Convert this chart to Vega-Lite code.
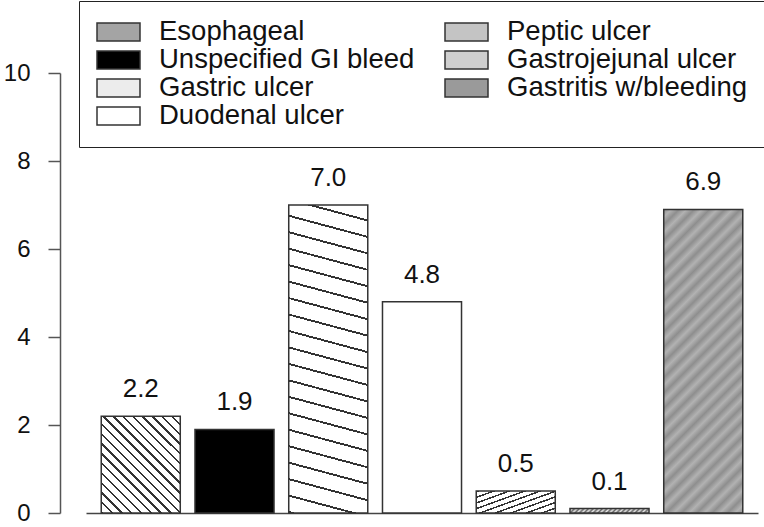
{
  "$schema": "https://vega.github.io/schema/vega-lite/v6.json",
  "autosize": "none",
  "padding": {"left": 86, "top": 73, "right": 6, "bottom": 14},
  "width": 672,
  "height": 440,
  "config": {"view": {"stroke": null}, "font": "Liberation Sans"},
  "data": {"values": [
    {"cause": "Esophageal", "rate": 2.2},
    {"cause": "Unspecified GI bleed", "rate": 1.9},
    {"cause": "Gastric ulcer", "rate": 7.0},
    {"cause": "Duodenal ulcer", "rate": 4.8},
    {"cause": "Peptic ulcer", "rate": 0.5},
    {"cause": "Gastrojejunal ulcer", "rate": 0.1},
    {"cause": "Gastritis w/bleeding", "rate": 6.9}
  ]},
  "encoding": {
    "x": {"field": "cause", "type": "nominal",
      "sort": ["Esophageal","Unspecified GI bleed","Gastric ulcer","Duodenal ulcer","Peptic ulcer","Gastrojejunal ulcer","Gastritis w/bleeding"],
      "scale": {"paddingInner": 0.157, "paddingOuter": 0.1625},
      "axis": {"labels": false, "ticks": false, "title": null, "domainColor": "#444", "domainWidth": 1.5}},
    "y": {"field": "rate", "type": "quantitative",
      "scale": {"domain": [0, 10], "nice": false},
      "axis": {"values": [0,2,4,6,8,10], "offset": 26, "tickSize": 12, "labelPadding": 18, "labelFontSize": 24, "labelFont": "Liberation Sans", "labelColor": "#111", "domainColor": "#555", "tickColor": "#555", "domainWidth": 1.5, "tickWidth": 1.5, "grid": false, "title": null}}
  },
  "layer": [
    {
      "mark": {"type": "bar", "stroke": "#333", "strokeWidth": 1.5},
      "encoding": {
        "fill": {"field": "cause", "type": "nominal",
          "scale": {
            "domain": ["Esophageal","Unspecified GI bleed","Gastric ulcer","Duodenal ulcer","Peptic ulcer","Gastrojejunal ulcer","Gastritis w/bleeding"],
            "range": ["#a4a4a4","#000000","#ececec","#ffffff","#c4c4c4","#cfcfcf","#9a9a9a"]},
          "legend": {"title": null, "orient": "none", "legendX": -7, "legendY": -72, "columns": 2, "columnPadding": 29, "rowPadding": 0, "clipHeight": 28,
            "padding": 17, "strokeColor": "#222", "fillColor": "#ffffff",
            "symbolType": "M-1,-0.42H1V0.42H-1Z", "symbolSize": 1849,
            "labelFontSize": 27.5, "labelFont": "Liberation Sans", "labelColor": "#111", "labelOffset": 18, "labelLimit": 400,
            "encode": {
              "legend": {"strokeWidth": {"value": 1.5}},
              "symbols": {"stroke": {"value": "#444"}, "strokeWidth": {"value": 1.5}}}},
          "condition": [
            {"test": "datum.cause === 'Esophageal'", "value": {"gradient": "linear", "x1": 0, "y1": 1, "x2": 0.8896, "y2": -0.0901, "stops": [
                {"offset":0,"color":"#333"},{"offset":0.0139,"color":"#333"},{"offset":0.0139,"color":"#fff"},{"offset":0.0556,"color":"#fff"},
                {"offset":0.0556,"color":"#333"},{"offset":0.0695,"color":"#333"},{"offset":0.0695,"color":"#fff"},{"offset":0.1111,"color":"#fff"},
                {"offset":0.1111,"color":"#333"},{"offset":0.125,"color":"#333"},{"offset":0.125,"color":"#fff"},{"offset":0.1667,"color":"#fff"},
                {"offset":0.1667,"color":"#333"},{"offset":0.1806,"color":"#333"},{"offset":0.1806,"color":"#fff"},{"offset":0.2222,"color":"#fff"},
                {"offset":0.2222,"color":"#333"},{"offset":0.2361,"color":"#333"},{"offset":0.2361,"color":"#fff"},{"offset":0.2778,"color":"#fff"},
                {"offset":0.2778,"color":"#333"},{"offset":0.2917,"color":"#333"},{"offset":0.2917,"color":"#fff"},{"offset":0.3333,"color":"#fff"},
                {"offset":0.3333,"color":"#333"},{"offset":0.3472,"color":"#333"},{"offset":0.3472,"color":"#fff"},{"offset":0.3889,"color":"#fff"},
                {"offset":0.3889,"color":"#333"},{"offset":0.4028,"color":"#333"},{"offset":0.4028,"color":"#fff"},{"offset":0.4444,"color":"#fff"},
                {"offset":0.4444,"color":"#333"},{"offset":0.4583,"color":"#333"},{"offset":0.4583,"color":"#fff"},{"offset":0.5,"color":"#fff"},
                {"offset":0.5,"color":"#333"},{"offset":0.5139,"color":"#333"},{"offset":0.5139,"color":"#fff"},{"offset":0.5556,"color":"#fff"},
                {"offset":0.5556,"color":"#333"},{"offset":0.5695,"color":"#333"},{"offset":0.5695,"color":"#fff"},{"offset":0.6111,"color":"#fff"},
                {"offset":0.6111,"color":"#333"},{"offset":0.625,"color":"#333"},{"offset":0.625,"color":"#fff"},{"offset":0.6667,"color":"#fff"},
                {"offset":0.6667,"color":"#333"},{"offset":0.6806,"color":"#333"},{"offset":0.6806,"color":"#fff"},{"offset":0.7222,"color":"#fff"},
                {"offset":0.7222,"color":"#333"},{"offset":0.7361,"color":"#333"},{"offset":0.7361,"color":"#fff"},{"offset":0.7778,"color":"#fff"},
                {"offset":0.7778,"color":"#333"},{"offset":0.7917,"color":"#333"},{"offset":0.7917,"color":"#fff"},{"offset":0.8333,"color":"#fff"},
                {"offset":0.8333,"color":"#333"},{"offset":0.8472,"color":"#333"},{"offset":0.8472,"color":"#fff"},{"offset":0.8889,"color":"#fff"},
                {"offset":0.8889,"color":"#333"},{"offset":0.9028,"color":"#333"},{"offset":0.9028,"color":"#fff"},{"offset":0.9444,"color":"#fff"},
                {"offset":0.9444,"color":"#333"},{"offset":0.9583,"color":"#333"},{"offset":0.9583,"color":"#fff"},{"offset":1,"color":"#fff"}
            ]}},
            {"test": "datum.cause === 'Peptic ulcer'", "value": {"gradient": "linear", "x1": 0, "y1": 0, "x2": 1.1127, "y2": 0.8531, "stops": [
                {"offset":0,"color":"#333"},{"offset":0.0311,"color":"#333"},{"offset":0.0311,"color":"#fff"},{"offset":0.1111,"color":"#fff"},
                {"offset":0.1111,"color":"#333"},{"offset":0.1422,"color":"#333"},{"offset":0.1422,"color":"#fff"},{"offset":0.2222,"color":"#fff"},
                {"offset":0.2222,"color":"#333"},{"offset":0.2533,"color":"#333"},{"offset":0.2533,"color":"#fff"},{"offset":0.3333,"color":"#fff"},
                {"offset":0.3333,"color":"#333"},{"offset":0.3644,"color":"#333"},{"offset":0.3644,"color":"#fff"},{"offset":0.4444,"color":"#fff"},
                {"offset":0.4444,"color":"#333"},{"offset":0.4755,"color":"#333"},{"offset":0.4755,"color":"#fff"},{"offset":0.5556,"color":"#fff"},
                {"offset":0.5556,"color":"#333"},{"offset":0.5867,"color":"#333"},{"offset":0.5867,"color":"#fff"},{"offset":0.6667,"color":"#fff"},
                {"offset":0.6667,"color":"#333"},{"offset":0.6978,"color":"#333"},{"offset":0.6978,"color":"#fff"},{"offset":0.7778,"color":"#fff"},
                {"offset":0.7778,"color":"#333"},{"offset":0.8089,"color":"#333"},{"offset":0.8089,"color":"#fff"},{"offset":0.8889,"color":"#fff"},
                {"offset":0.8889,"color":"#333"},{"offset":0.92,"color":"#333"},{"offset":0.92,"color":"#fff"},{"offset":1,"color":"#fff"}
            ]}},
            {"test": "datum.cause === 'Gastrojejunal ulcer'", "value": {"gradient": "linear", "x1": 0, "y1": 0, "x2": 1.0524, "y2": 0.0586, "stops": [
                {"offset":0,"color":"#666"},{"offset":0.0278,"color":"#e6e6e6"},{"offset":0.0556,"color":"#666"},{"offset":0.0833,"color":"#e6e6e6"},
                {"offset":0.1111,"color":"#666"},{"offset":0.1389,"color":"#e6e6e6"},{"offset":0.1667,"color":"#666"},{"offset":0.1944,"color":"#e6e6e6"},
                {"offset":0.2222,"color":"#666"},{"offset":0.25,"color":"#e6e6e6"},{"offset":0.2778,"color":"#666"},{"offset":0.3056,"color":"#e6e6e6"},
                {"offset":0.3333,"color":"#666"},{"offset":0.3611,"color":"#e6e6e6"},{"offset":0.3889,"color":"#666"},{"offset":0.4167,"color":"#e6e6e6"},
                {"offset":0.4444,"color":"#666"},{"offset":0.4722,"color":"#e6e6e6"},{"offset":0.5,"color":"#666"},{"offset":0.5278,"color":"#e6e6e6"},
                {"offset":0.5556,"color":"#666"},{"offset":0.5833,"color":"#e6e6e6"},{"offset":0.6111,"color":"#666"},{"offset":0.6389,"color":"#e6e6e6"},
                {"offset":0.6667,"color":"#666"},{"offset":0.6944,"color":"#e6e6e6"},{"offset":0.7222,"color":"#666"},{"offset":0.75,"color":"#e6e6e6"},
                {"offset":0.7778,"color":"#666"},{"offset":0.8056,"color":"#e6e6e6"},{"offset":0.8333,"color":"#666"},{"offset":0.8611,"color":"#e6e6e6"},
                {"offset":0.8889,"color":"#666"},{"offset":0.9167,"color":"#e6e6e6"},{"offset":0.9444,"color":"#666"},{"offset":0.9722,"color":"#e6e6e6"},
                {"offset":1,"color":"#666"}
            ]}},
            {"test": "datum.cause === 'Gastric ulcer'", "value": {"gradient": "linear", "x1": 0, "y1": 1, "x2": 0.0732, "y2": -0.0638, "stops": [
                {"offset":0,"color":"#333"},{"offset":0.006,"color":"#333"},{"offset":0.006,"color":"#fff"},{"offset":0.05,"color":"#fff"},
                {"offset":0.05,"color":"#333"},{"offset":0.056,"color":"#333"},{"offset":0.056,"color":"#fff"},{"offset":0.1,"color":"#fff"},
                {"offset":0.1,"color":"#333"},{"offset":0.106,"color":"#333"},{"offset":0.106,"color":"#fff"},{"offset":0.15,"color":"#fff"},
                {"offset":0.15,"color":"#333"},{"offset":0.156,"color":"#333"},{"offset":0.156,"color":"#fff"},{"offset":0.2,"color":"#fff"},
                {"offset":0.2,"color":"#333"},{"offset":0.206,"color":"#333"},{"offset":0.206,"color":"#fff"},{"offset":0.25,"color":"#fff"},
                {"offset":0.25,"color":"#333"},{"offset":0.256,"color":"#333"},{"offset":0.256,"color":"#fff"},{"offset":0.3,"color":"#fff"},
                {"offset":0.3,"color":"#333"},{"offset":0.306,"color":"#333"},{"offset":0.306,"color":"#fff"},{"offset":0.35,"color":"#fff"},
                {"offset":0.35,"color":"#333"},{"offset":0.356,"color":"#333"},{"offset":0.356,"color":"#fff"},{"offset":0.4,"color":"#fff"},
                {"offset":0.4,"color":"#333"},{"offset":0.406,"color":"#333"},{"offset":0.406,"color":"#fff"},{"offset":0.45,"color":"#fff"},
                {"offset":0.45,"color":"#333"},{"offset":0.456,"color":"#333"},{"offset":0.456,"color":"#fff"},{"offset":0.5,"color":"#fff"},
                {"offset":0.5,"color":"#333"},{"offset":0.506,"color":"#333"},{"offset":0.506,"color":"#fff"},{"offset":0.55,"color":"#fff"},
                {"offset":0.55,"color":"#333"},{"offset":0.556,"color":"#333"},{"offset":0.556,"color":"#fff"},{"offset":0.6,"color":"#fff"},
                {"offset":0.6,"color":"#333"},{"offset":0.606,"color":"#333"},{"offset":0.606,"color":"#fff"},{"offset":0.65,"color":"#fff"},
                {"offset":0.65,"color":"#333"},{"offset":0.656,"color":"#333"},{"offset":0.656,"color":"#fff"},{"offset":0.7,"color":"#fff"},
                {"offset":0.7,"color":"#333"},{"offset":0.706,"color":"#333"},{"offset":0.706,"color":"#fff"},{"offset":0.75,"color":"#fff"},
                {"offset":0.75,"color":"#333"},{"offset":0.756,"color":"#333"},{"offset":0.756,"color":"#fff"},{"offset":0.8,"color":"#fff"},
                {"offset":0.8,"color":"#333"},{"offset":0.806,"color":"#333"},{"offset":0.806,"color":"#fff"},{"offset":0.85,"color":"#fff"},
                {"offset":0.85,"color":"#333"},{"offset":0.856,"color":"#333"},{"offset":0.856,"color":"#fff"},{"offset":0.9,"color":"#fff"},
                {"offset":0.9,"color":"#333"},{"offset":0.906,"color":"#333"},{"offset":0.906,"color":"#fff"},{"offset":0.95,"color":"#fff"},
                {"offset":0.95,"color":"#333"},{"offset":0.956,"color":"#333"},{"offset":0.956,"color":"#fff"},{"offset":1,"color":"#fff"}
            ]}},
            {"test": "datum.cause === 'Gastritis w/bleeding'", "value": {"gradient": "linear", "x1": 0, "y1": 0, "x2": 0.3071, "y2": 1.1803, "stops": [
                {"offset":0,"color":"#8e8e8e"},{"offset":0.02,"color":"#b2b2b2"},{"offset":0.04,"color":"#8e8e8e"},{"offset":0.06,"color":"#b2b2b2"},
                {"offset":0.08,"color":"#8e8e8e"},{"offset":0.1,"color":"#b2b2b2"},{"offset":0.12,"color":"#8e8e8e"},{"offset":0.14,"color":"#b2b2b2"},
                {"offset":0.16,"color":"#8e8e8e"},{"offset":0.18,"color":"#b2b2b2"},{"offset":0.2,"color":"#8e8e8e"},{"offset":0.22,"color":"#b2b2b2"},
                {"offset":0.24,"color":"#8e8e8e"},{"offset":0.26,"color":"#b2b2b2"},{"offset":0.28,"color":"#8e8e8e"},{"offset":0.3,"color":"#b2b2b2"},
                {"offset":0.32,"color":"#8e8e8e"},{"offset":0.34,"color":"#b2b2b2"},{"offset":0.36,"color":"#8e8e8e"},{"offset":0.38,"color":"#b2b2b2"},
                {"offset":0.4,"color":"#8e8e8e"},{"offset":0.42,"color":"#b2b2b2"},{"offset":0.44,"color":"#8e8e8e"},{"offset":0.46,"color":"#b2b2b2"},
                {"offset":0.48,"color":"#8e8e8e"},{"offset":0.5,"color":"#b2b2b2"},{"offset":0.52,"color":"#8e8e8e"},{"offset":0.54,"color":"#b2b2b2"},
                {"offset":0.56,"color":"#8e8e8e"},{"offset":0.58,"color":"#b2b2b2"},{"offset":0.6,"color":"#8e8e8e"},{"offset":0.62,"color":"#b2b2b2"},
                {"offset":0.64,"color":"#8e8e8e"},{"offset":0.66,"color":"#b2b2b2"},{"offset":0.68,"color":"#8e8e8e"},{"offset":0.7,"color":"#b2b2b2"},
                {"offset":0.72,"color":"#8e8e8e"},{"offset":0.74,"color":"#b2b2b2"},{"offset":0.76,"color":"#8e8e8e"},{"offset":0.78,"color":"#b2b2b2"},
                {"offset":0.8,"color":"#8e8e8e"},{"offset":0.82,"color":"#b2b2b2"},{"offset":0.84,"color":"#8e8e8e"},{"offset":0.86,"color":"#b2b2b2"},
                {"offset":0.88,"color":"#8e8e8e"},{"offset":0.9,"color":"#b2b2b2"},{"offset":0.92,"color":"#8e8e8e"},{"offset":0.94,"color":"#b2b2b2"},
                {"offset":0.96,"color":"#8e8e8e"},{"offset":0.98,"color":"#b2b2b2"},{"offset":1,"color":"#8e8e8e"}
            ]}}
          ]}
      }
    },
    {
      "mark": {"type": "text", "baseline": "alphabetic", "dy": -19, "fontSize": 26, "font": "Liberation Sans", "color": "#111"},
      "encoding": {
        "text": {"field": "rate", "type": "quantitative", "format": ".1f"}
      }
    }
  ]
}
